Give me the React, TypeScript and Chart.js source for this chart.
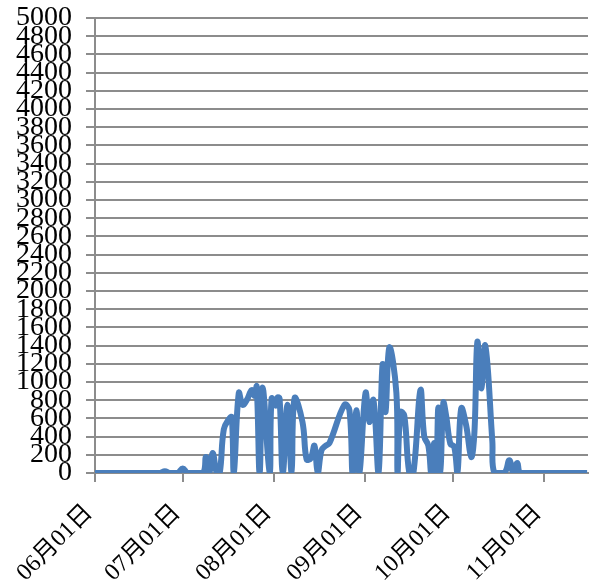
import React, { useEffect, useRef } from "react";
import { Chart, registerables } from "chart.js";

Chart.register(...registerables);

// day index since 06月01日
const days = [
  0, 22.1, 23.8, 25.5, 28.2, 29.9, 31.6, 36.7, 37.8, 39.0, 40.1, 41.5, 42.5, 43.9, 45.6, 46.6, 47.3,
  49.0, 50.3, 51.7, 53.4, 54.4, 55.1, 56.1, 57.1, 59.5, 60.2, 61.6, 62.2, 62.9, 64.0, 65.6, 67.0,
  68.0, 70.7, 72.1, 73.5, 74.8, 75.9, 77.2, 78.6, 79.9, 85.0, 86.7, 87.8, 89.1, 90.1, 92.2, 93.5,
  94.9, 96.6, 98.0, 99.0, 100.3, 102.7, 103.1, 104.1, 105.4, 107.1, 108.5, 110.9, 112.2, 113.6,
  114.6, 115.6, 116.3, 117.0, 117.7, 118.7, 119.7, 121.1, 122.4, 123.5, 124.8, 126.5, 128.2, 129.3,
  130.3, 131.6, 133.0, 135.4, 136.1, 139.5, 141.2, 142.5, 143.9, 145.2, 167.7,
];
const values = [
  0, 0, 20, 0, 0, 50, 0, 0, 175, 0, 220, 0, 0, 480, 590, 615, 0,
  880, 750, 800, 910, 850, 950, 0, 940, 0, 820, 740, 830, 820, 0, 750, 0,
  820, 560, 150, 160, 300, 0, 250, 300, 330, 750, 690, 0, 690, 0, 880, 560,
  800, 0, 1190, 670, 1380, 880, 0, 670, 630, 0, 0, 910, 400, 300,
  0, 330, 0, 720, 0, 770, 620, 320, 290, 0, 710, 520, 175, 450,
  1440, 930, 1400, 350, 0, 0, 140, 0, 110, 0, 0,
];

const monthTicks = [0, 30, 61, 92, 122, 153];
const monthLabels = ["06月01日", "07月01日", "08月01日", "09月01日", "10月01日", "11月01日"];
const yMax = 5000;
const yStep = 200;

const FONT = "'Liberation Serif', 'Times New Roman', 'Noto Sans CJK SC', serif";

export default function App() {
  const ref = useRef<HTMLCanvasElement | null>(null);
  useEffect(() => {
    document.body.style.margin = "0";
    const ctx = ref.current!;
    const chart = new Chart(ctx, {
      type: "line",
      data: {
        datasets: [
          {
            data: days.map((d, i) => ({ x: d, y: values[i] })),
            borderColor: "#4a7ebb",
            borderWidth: 6,
            pointRadius: 0,
            tension: 0.4,
            fill: false,
          },
        ],
      },
      options: {
        animation: false,
        responsive: false,
        maintainAspectRatio: false,
        layout: { padding: { top: 18, right: 3, left: 0, bottom: 0 } },
        plugins: { legend: { display: false }, tooltip: { enabled: false } },
        scales: {
          x: {
            type: "linear",
            min: 0,
            max: 168,
            afterBuildTicks: (scale: any) => {
              scale.ticks = monthTicks.map((v) => ({ value: v }));
            },
            afterFit: (scale: any) => {
              scale.height = 114;
            },
            ticks: {
              autoSkip: false,
              maxRotation: 45,
              minRotation: 45,
              color: "#000",
              padding: 17,
              labelOffset: -6,
              font: { family: FONT, size: 24 },
              callback: (v: any) => {
                const i = monthTicks.indexOf(Number(v));
                return i >= 0 ? monthLabels[i] : "";
              },
            },
            grid: {
              display: true,
              drawOnChartArea: false,
              drawTicks: true,
              tickLength: 9,
              color: "#8c8c8c",
              lineWidth: 2,
            },
            border: { display: true, color: "#8c8c8c", width: 2 },
          },
          y: {
            min: 0,
            max: yMax,
            afterBuildTicks: (scale: any) => {
              const t = [];
              for (let v = 0; v <= yMax; v += yStep) t.push({ value: v });
              scale.ticks = t;
            },
            afterFit: (scale: any) => {
              scale.width = 95;
              scale.paddingTop = 0;
              scale.paddingBottom = 0;
            },
            ticks: {
              autoSkip: false,
              color: "#000",
              padding: 14,
              font: { family: FONT, size: 28, lineHeight: 0.8 },
              callback: (v: any) => String(v),
            },
            grid: {
              color: "#8c8c8c",
              lineWidth: 2,
              tickLength: 9,
            },
            border: { display: true, color: "#8c8c8c", width: 2 },
          },
        },
      },
    });
    return () => chart.destroy();
  }, []);
  return (
    <div style={{ position: "absolute", left: 0, top: 0, width: 591, height: 587 }}>
      <canvas ref={ref} width={591} height={587} style={{ width: 591, height: 587 }} />
    </div>
  );
}
